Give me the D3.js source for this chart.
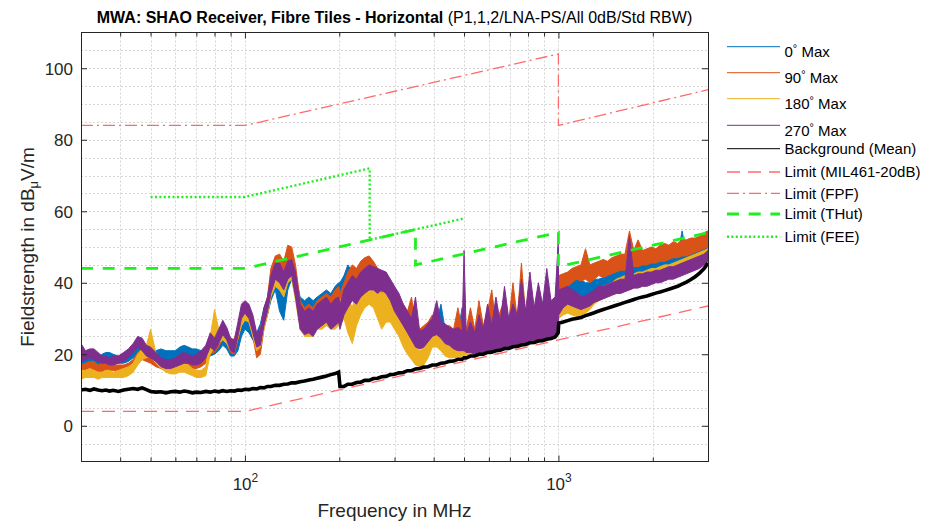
<!DOCTYPE html>
<html>
<head>
<meta charset="utf-8">
<script src="https://cdn.jsdelivr.net/npm/d3@7"></script>
<style>
  html, body { margin: 0; padding: 0; background: #ffffff; }
  svg { display: block; font-family: "Liberation Sans", Arial, Helvetica, sans-serif; }
</style>
</head>
<body>
<svg id="chart" width="931" height="522"></svg>
<script>
// ---- Sample frequencies (MHz) shared by the measured traces ----
const freqMHz = [
  30, 31, 32, 33, 34, 35, 36, 37, 38, 39.5, 41, 42.5, 44, 45.5, 47, 48.5, 50,
  52, 54, 56, 58, 60, 62, 64, 66, 68, 70, 72.5, 75, 77.5, 80, 82.5, 85, 87.5, 90, 92.5, 95, 97.5, 100,
  103, 106, 109, 112, 115, 118, 121, 125, 129, 133, 137, 141, 145, 150, 155, 160, 165, 170, 176, 182, 188, 194, 199,
  201, 207, 213, 220, 227, 234, 241, 249, 257, 265, 273, 282, 291, 300, 310, 320, 330, 340, 350,
  361, 372, 384, 396, 409, 422, 435, 449, 463, 478, 493, 500, 508, 524, 541, 558, 576, 594,
  613, 632, 652, 673, 694, 716, 739, 762, 786, 811, 837, 863, 890, 918, 947, 976, 998,
  1002, 1035, 1070, 1105, 1140, 1180, 1220, 1260, 1300, 1345, 1390, 1435, 1480, 1530, 1580, 1630, 1685,
  1740, 1795, 1855, 1915, 1980, 2045, 2110, 2180, 2250, 2325, 2400, 2480, 2560, 2645, 2730, 2820, 2910, 3000
];

// ---- 0° Max (per-sample minimum / maximum, dBuV/m) ----
const max0Lo = [
  17, 17, 16.5, 17, 17, 17.5, 18, 18, 17.5, 17.5, 17.5, 18, 19, 20, 20, 19, 18.5,
  18.5, 18.5, 18.5, 18, 18.5, 19.5, 20, 19.5, 19, 18.5, 18.5, 18.5, 19.5, 20, 21, 22.5, 21.5, 19.5, 19.5, 21, 25, 27,
  26, 24, 22, 24, 28, 31, 35, 38, 32, 29.5, 38, 41, 36, 30, 29, 29, 28, 30, 31, 32, 31, 32, 33,
  33, 35, 38, 36, 37, 37, 36, 37, 36, 36, 37, 36, 34, 31, 29, 27, 26, 24, 22,
  22, 21.5, 23, 24, 24.5, 24, 22.5, 22, 21.5, 21, 21, 21, 20.5, 20.5, 20, 20, 20.5, 21,
  21, 21.5, 21.5, 22, 22, 22.5, 22.5, 23, 23, 23.5, 24, 24, 24, 24.5, 25, 25, 26,
  33, 35, 37, 38, 37, 36, 35, 36, 37, 37.5, 38, 38, 38.5, 39, 39.5, 39.5, 40,
  40.5, 41, 41, 41.5, 42, 42, 42.5, 43, 43, 43.5, 44, 44.5, 45, 45.5, 46, 46.5, 47, 47.5
];
const max0Hi = [
  19.5, 19, 19, 19.5, 19, 20, 20.5, 20.5, 20, 19.5, 20, 21, 21.5, 23, 22.5, 21.5, 21,
  21, 21.5, 21, 21, 21, 22, 22.5, 22, 21.5, 21.5, 21, 21.5, 23, 23.5, 25, 26.5, 25, 22.5, 22.5, 25, 29, 30.5,
  30, 28, 26, 28.5, 33, 35.5, 41, 44, 42, 36, 44, 45.5, 42, 36, 35, 36, 35, 36, 37, 38, 37, 39, 40,
  40, 42, 45, 43, 44, 45, 43, 44, 43, 42, 43, 42, 40, 38, 36, 33, 31, 29, 27,
  26, 26, 28, 29, 29, 34, 27, 27, 26.5, 26, 33, 27, 25, 27, 25, 27, 25, 29,
  26, 29, 26, 31, 27, 32, 28, 33, 28, 32, 29, 33, 29, 33, 30, 31, 50,
  40, 41, 42.5, 43.5, 42, 41, 40, 40, 41, 41, 41.5, 42, 43, 46, 47.5, 44, 45,
  44.5, 45, 45, 45.5, 45.5, 46, 46, 46.5, 47, 47, 47.5, 54.5, 48, 48.5, 49, 49.5, 50, 50.5
];

// ---- 90° Max ----
const max90Lo = [
  15, 15.5, 16, 15.5, 15, 15, 15.5, 15.5, 15.5, 15, 15, 15.5, 16, 17.5, 18.5, 18, 17.5,
  16.5, 16, 15.5, 15, 15.5, 16, 16.5, 16.5, 16, 16, 16.5, 17.5, 20, 20.5, 22, 24.5, 23, 20.5, 20, 24, 28.5, 30,
  29, 25, 19, 20, 27, 31, 38, 42, 42, 39, 44, 45, 38, 28, 27, 27, 26, 28, 29, 30, 29, 30, 31,
  29, 32, 35, 37, 36, 38, 39, 40, 39, 37, 37, 36, 34, 32, 30, 28, 27, 25, 23,
  22.5, 23, 24, 25, 25, 24, 23, 22, 21.5, 21.5, 21, 21, 21, 20.5, 20.5, 20.5, 21, 21,
  21, 21.5, 22, 22, 22, 22.5, 22.5, 23, 23, 23.5, 24, 24, 24, 24.5, 25, 25, 26,
  37, 38, 39, 40, 41, 40.5, 41, 40, 41, 42, 41.5, 42, 42.5, 43, 43.5, 43.5, 44,
  44.5, 44.5, 45, 45, 45.5, 45.5, 46, 46, 46.5, 47, 47, 47.5, 47.5, 48, 48.5, 49, 49.5, 50
];
const max90Hi = [
  17, 17.5, 18, 18, 17, 17.5, 17.5, 17.5, 17, 17, 17, 17.5, 18.5, 20.5, 21.5, 21, 20,
  19, 18, 17.5, 17.5, 17.5, 18.5, 19, 19, 18.5, 18.5, 19, 21, 24.5, 24, 26, 29, 27, 24, 23.5, 28, 32.5, 34,
  33.5, 30, 24, 26, 32, 36, 44, 47.5, 48, 46, 50.5, 50, 45, 35, 33, 34, 33, 35, 36, 37, 36, 38, 39,
  37, 40, 43, 45, 44, 46, 47, 47.5, 46, 44, 43, 42, 40, 38, 36, 34, 32, 36, 28,
  27, 28, 29, 31, 30, 28.5, 28, 28, 27, 33, 27, 26, 27, 33, 27, 35, 28, 32,
  38, 28, 32, 35, 29, 40, 30, 45.5, 31, 36, 32, 38, 32, 36, 33, 33, 40,
  42, 42.5, 43, 44, 44.5, 45, 49.5, 45, 45.5, 46, 46.5, 46, 47, 47.5, 48, 48, 54.5,
  49, 52, 49, 49.5, 50, 49.5, 50.5, 51, 50.5, 51.5, 51, 52, 52, 52.5, 52.5, 53, 54, 54.5
];

// ---- 180° Max ----
const max180Lo = [
  13, 13.5, 13.5, 13.5, 13, 13.5, 13.5, 13.5, 13.5, 13.5, 13.5, 14, 15, 17, 18.5, 19, 19.5,
  17.5, 16, 15, 14.5, 14.5, 15, 15, 14.5, 14, 13.5, 13.5, 14, 20, 22, 23, 24, 23, 21, 21, 24.5, 28, 29.5,
  29, 25, 21, 22, 27, 31, 36, 39, 38, 36, 40, 41, 35, 27, 25, 25, 25, 27, 27, 28, 27, 27, 28,
  28, 30, 26, 23, 28, 31, 33, 34, 33, 30, 27, 29, 29, 27, 25, 22, 20, 18.5, 17,
  16.5, 17, 19, 22, 22, 21, 19.5, 19, 19, 19.2, 19.5, 19.6, 19.8, 20, 20.2, 20.5, 20.8, 21,
  21.3, 21.6, 22, 22.2, 22.4, 22.8, 23, 23.3, 23.5, 23.8, 24, 24.3, 24.5, 24.8, 25, 25.3, 26,
  30, 31, 31.5, 31, 30.5, 31, 31.5, 32.5, 34, 35, 35.5, 36, 36.5, 37, 37.5, 38, 38,
  38.5, 39, 39, 39.5, 40, 40.5, 41, 41.5, 42, 42.5, 43, 43.5, 44, 44.5, 45, 45.5, 46, 46.5
];
const max180Hi = [
  15.5, 15.5, 16, 15.5, 15, 15, 15.5, 15.5, 15, 15.5, 16, 16.5, 17.5, 20, 21.5, 22.5, 27,
  20.5, 18.5, 17, 16.5, 16.5, 17, 17.5, 17, 16, 15.5, 15.5, 16.5, 25, 32.5, 27, 28, 26.5, 24, 24.5, 28, 32, 33,
  33, 29.5, 25, 27, 32, 35, 41, 44, 44, 42, 45, 45, 41, 33, 31, 32, 31, 33, 34, 35, 34, 35, 35,
  35, 37, 36, 33, 38, 40, 42, 43, 42, 39, 37, 38, 37, 34, 31, 28, 26, 24, 22,
  21, 22, 25, 27, 28, 27, 25, 23.5, 22.5, 22, 23, 24, 23, 22, 22, 23, 24, 25,
  26, 25, 27, 26, 29, 27, 32, 28, 31, 28, 33, 29, 32, 29, 31, 30, 30,
  36, 36, 35.5, 35, 34.5, 34, 35, 36, 37.5, 38.5, 39, 39.5, 40, 41, 41.5, 42, 42,
  42.5, 43, 43, 43.5, 44, 44, 44.5, 45, 45, 45.5, 46, 46.5, 47, 47.5, 48, 48.5, 49, 49.5
];

// ---- 270° Max ----
const max270Lo = [
  18, 18.5, 19, 18.5, 18, 17.5, 17.5, 17, 17, 17.5, 18, 19, 20.5, 22, 21, 19.5, 19,
  18, 16.5, 16, 16, 16.5, 17, 17.5, 17.5, 17, 17, 17.5, 19, 22, 21, 23, 25.5, 24, 21, 20.5, 25, 30, 31.5,
  30, 26, 22, 22.5, 28, 32, 37, 41, 40, 38, 41, 42, 36, 27, 25.5, 26, 25, 27, 28, 29, 27, 28, 29,
  27, 31, 33, 35, 34, 36, 37, 38, 38, 37, 38, 37, 35, 32, 30, 28, 26, 24, 22,
  21.5, 22, 23.5, 25, 25.5, 24.5, 23, 22.5, 21.5, 21, 21, 21, 20.5, 20.5, 20, 20, 20.5, 21,
  21, 21.5, 21.5, 22, 22, 22.5, 22.5, 23, 23, 23.5, 24, 24, 24, 24.5, 25, 25, 26,
  31, 33, 34, 33.5, 33, 32.5, 33, 33.5, 34.5, 35, 35.5, 36, 36.5, 37, 37, 37.5, 38,
  38.5, 38.5, 39, 39, 39.5, 40, 40, 40.5, 41, 41, 41.5, 42, 42.5, 43, 43.5, 44, 45, 46
];
const max270Hi = [
  23, 21, 21.5, 21.5, 20.5, 19.5, 19.5, 19, 19.5, 19.5, 20.5, 21.5, 23, 25, 24.5, 22.5, 22,
  20.5, 19, 18.5, 18.5, 19, 20, 20.5, 20, 19.5, 20, 21, 22.5, 26, 24.5, 27, 29.5, 27.5, 24.5, 24, 29, 34, 35,
  34, 31, 26, 27, 33, 36, 42, 45.5, 45.5, 43, 46, 46.5, 43, 34, 32, 33, 32, 34, 35, 36, 34, 35.5, 36,
  34, 38, 40, 42, 41, 43, 44, 45, 44.5, 44, 43.5, 43, 41, 39, 37, 34, 32, 30, 36,
  26.5, 27, 28.5, 30, 35, 29, 28.5, 27.5, 27, 27.5, 26.5, 49, 25.5, 29, 26, 31, 27, 34,
  28, 36, 29, 39, 30, 34, 31, 41, 32, 43, 33, 40, 34, 44, 35, 36, 51,
  38, 38.5, 39, 38, 37.5, 36, 36.5, 37, 38, 39, 39, 39.5, 40, 40.5, 41, 41, 53,
  42, 42.5, 42.5, 43, 43, 43.5, 43.5, 44, 44.5, 44.5, 45, 45.5, 46, 46.5, 47, 47.5, 48, 49
];

// ---- Background (Mean) ----
const backgroundMean = [
  10, 10.2, 9.9, 10.3, 10, 9.8, 10, 9.7, 9.9, 9.6, 10, 10.2, 10.4, 10.2, 10.6, 10.1, 9.6,
  9.4, 9.5, 9.2, 9.5, 9.6, 9.4, 9.7, 9.5, 9.2, 9.4, 9.3, 9.6, 9.4, 9.7, 9.5, 9.8, 9.6, 9.8, 9.7, 10, 9.9, 10.2,
  10.1, 10.4, 10.3, 10.7, 10.6, 11, 11, 11.3, 11.3, 11.6, 11.7, 12, 12, 12.3, 12.5, 12.8, 13, 13.3, 13.6, 13.9, 14.3, 14.6, 15,
  11.0, 11.0, 11.6, 11.6, 12.1, 12.2, 12.7, 12.7, 13.2, 13.3, 13.7, 13.8, 14.3, 14.4, 14.8, 14.9, 15.4, 15.4, 15.9,
  16.0, 16.4, 16.5, 17.0, 17.0, 17.5, 17.6, 18.0, 18.1, 18.6, 18.6, 19.0, 19.0, 19.5, 19.5, 20.0, 20.0, 20.5,
  20.6, 21.0, 21.1, 21.6, 21.6, 22.1, 22.2, 22.6, 22.7, 23.2, 23.3, 23.7, 23.8, 24.2, 24.4, 24.8, 26.0,
  28.7, 29.0, 29.4, 29.8, 30.0, 30.3, 30.8, 31.2, 31.6, 32.1, 32.5, 32.9, 33.3, 33.7, 34.1, 34.5, 34.9,
  35.3, 35.7, 36.0, 36.3, 36.7, 37.1, 37.4, 37.8, 38.2, 38.6, 39.0, 39.6, 40.2, 40.9, 41.7, 42.7, 43.9, 45.5
];

// ---- Limit lines (frequency MHz / level dBuV/m) ----
const milFreq   = [30, 100, 1000, 3000];
const milLevel  = [4, 4, 24, 33.5];
const fpfFreq   = [30, 100, 1000, 1000, 3000];
const fpfLevel  = [84, 84, 104, 84, 94];
const thutFreq  = [30, 100, 350, 350, 1000, 1000, 3000];
const thutLevel = [44, 44, 54.9, 45, 54.1, 44.5, 54];
const feeFreq   = [50, 100, 250, 250, 500];
const feeLevel  = [64, 64, 72, 52, 58];

// ---- Axis ticks ----
const yTickValues  = [0, 20, 40, 60, 80, 100];
const yGridValues  = [-5, 0, 5, 10, 15, 20, 25, 30, 35, 40, 45, 50, 55, 60, 65, 70, 75, 80, 85, 90, 95, 100, 105];
const xMajorTicks  = [100, 1000];
const xMajorLabels = ["2", "3"];
const xMinorTicks  = [40, 50, 60, 70, 80, 90, 200, 300, 400, 500, 600, 700, 800, 900, 2000];
const legendLabels = ["0", "90", "180", "270", "Background (Mean)", "Limit (MIL461-20dB)", "Limit (FPF)", "Limit (THut)", "Limit (FEE)"];

// ---------------------------------------------------------------
const svg = d3.select("#chart");
const ink = "#262626";
const plot = { left: 81, right: 708, top: 32.5, bottom: 461.5 };

const x = d3.scaleLog().domain([30, 3000]).range([plot.left, plot.right]);
const y = d3.scaleLinear().domain([-10, 110]).range([plot.bottom, plot.top]);

svg.append("rect").attr("width", 931).attr("height", 522).attr("fill", "#ffffff");

svg.append("defs").append("clipPath").attr("id", "plot-clip")
  .append("rect")
  .attr("x", plot.left).attr("y", plot.top)
  .attr("width", plot.right - plot.left).attr("height", plot.bottom - plot.top);

// Dotted grid
const grid = svg.append("g").attr("stroke", "#d6d6d6").attr("stroke-width", 1).attr("stroke-dasharray", "2,2");
grid.selectAll("line.gx").data(xMinorTicks.concat(xMajorTicks)).join("line")
  .attr("x1", d => Math.round(x(d)) + 0.5).attr("x2", d => Math.round(x(d)) + 0.5)
  .attr("y1", plot.top).attr("y2", plot.bottom);
grid.selectAll("line.gy").data(yGridValues).join("line")
  .attr("y1", d => Math.round(y(d)) + 0.5).attr("y2", d => Math.round(y(d)) + 0.5)
  .attr("x1", plot.left).attr("x2", plot.right);

// Measured traces, each drawn as its min/max envelope
const traces = [
  { lo: max0Lo,   hi: max0Hi,   color: "#0072BD" },
  { lo: max90Lo,  hi: max90Hi,  color: "#D95319" },
  { lo: max180Lo, hi: max180Hi, color: "#EDB120" },
  { lo: max270Lo, hi: max270Hi, color: "#7E2F8E" }
];
const body = svg.append("g").attr("clip-path", "url(#plot-clip)");

const band = d3.area()
  .x(d => x(d.f)).y0(d => y(d.lo)).y1(d => y(d.hi));

traces.forEach(t => {
  const rows = freqMHz.map((f, i) => ({ f, lo: t.lo[i], hi: t.hi[i] }));
  body.append("path").datum(rows)
    .attr("d", band)
    .attr("fill", t.color)
    .attr("stroke", t.color)
    .attr("stroke-width", 1)
    .attr("stroke-linejoin", "round");
});

const line = d3.line().x(d => x(d[0])).y(d => y(d[1]));

body.append("path")
  .datum(freqMHz.map((f, i) => [f, backgroundMean[i]]))
  .attr("d", line).attr("fill", "none")
  .attr("stroke", "#000000").attr("stroke-width", 3.6);

const limits = [
  { f: milFreq,  v: milLevel,  color: "#ff6a6a", width: 1.3, dash: "13,8" },
  { f: fpfFreq,  v: fpfLevel,  color: "#ff6a6a", width: 1.3, dash: "12,4,2,4" },
  { f: thutFreq, v: thutLevel, color: "#1fef1f", width: 2.8, dash: "12,9.7" },
  { f: feeFreq,  v: feeLevel,  color: "#1fef1f", width: 2.4, dash: "2,2.4" }
];
limits.forEach(l => {
  body.append("path")
    .datum(l.f.map((f, i) => [f, l.v[i]]))
    .attr("d", line).attr("fill", "none")
    .attr("stroke", l.color).attr("stroke-width", l.width)
    .attr("stroke-dasharray", l.dash);
});

// Axes
function styleAxis(g) {
  g.select(".domain").remove();
  g.selectAll(".tick line").attr("stroke", ink);
  g.selectAll("text").attr("fill", ink).attr("font-family", "'Liberation Sans', Arial, sans-serif");
}

svg.append("g").attr("transform", `translate(${plot.left},0)`)
  .call(d3.axisLeft(y).tickValues(yTickValues).tickSize(-6).tickPadding(8).tickFormat(d3.format("d")))
  .call(styleAxis)
  .call(g => g.selectAll("text").attr("font-size", 17).attr("dy", "0.36em"));

svg.append("g").attr("transform", `translate(${plot.right},0)`)
  .call(d3.axisRight(y).tickValues(yTickValues).tickSize(-6).tickFormat(""))
  .call(styleAxis);

svg.append("g").attr("transform", `translate(0,${plot.bottom})`)
  .call(d3.axisBottom(x).tickValues(xMinorTicks).tickSize(-4).tickFormat(""))
  .call(styleAxis);
svg.append("g").attr("transform", `translate(0,${plot.top})`)
  .call(d3.axisTop(x).tickValues(xMinorTicks).tickSize(-4).tickFormat(""))
  .call(styleAxis);
svg.append("g").attr("transform", `translate(0,${plot.top})`)
  .call(d3.axisTop(x).tickValues(xMajorTicks).tickSize(-6).tickFormat(""))
  .call(styleAxis);

const xMajor = svg.append("g").attr("transform", `translate(0,${plot.bottom})`)
  .call(d3.axisBottom(x).tickValues(xMajorTicks).tickSize(-6).tickFormat(""))
  .call(styleAxis);
xMajor.selectAll(".tick text")
  .attr("y", 28.5).attr("dy", 0).attr("font-size", 17).attr("text-anchor", "middle")
  .each(function (d, i) {
    const t = d3.select(this);
    t.append("tspan").text("10");
    t.append("tspan").attr("dy", -8).attr("font-size", 12).text(xMajorLabels[i]);
  });

// Frame
svg.append("rect")
  .attr("x", plot.left + 0.5).attr("y", plot.top)
  .attr("width", plot.right - plot.left).attr("height", plot.bottom - plot.top)
  .attr("fill", "none").attr("stroke", ink).attr("stroke-width", 1);

// Title
const title = svg.append("text")
  .attr("x", (plot.left + plot.right) / 2).attr("y", 23)
  .attr("text-anchor", "middle").attr("font-size", 16).attr("fill", "#000000");
title.append("tspan").attr("font-weight", "bold").text("MWA: SHAO Receiver, Fibre Tiles - Horizontal");
title.append("tspan").text(" (P1,1,2/LNA-PS/All 0dB/Std RBW)");

// Axis titles
svg.append("text")
  .attr("x", (plot.left + plot.right) / 2).attr("y", 517)
  .attr("text-anchor", "middle").attr("font-size", 19).attr("fill", ink)
  .text("Frequency in MHz");

const yTitle = svg.append("text")
  .attr("transform", `translate(33.5,${(plot.top + plot.bottom) / 2}) rotate(-90)`)
  .attr("text-anchor", "middle").attr("font-size", 19).attr("fill", ink);
yTitle.append("tspan").text("Fieldstrength in dB");
yTitle.append("tspan").attr("font-size", 13).attr("dy", 4).text("\u03bc");
yTitle.append("tspan").attr("dy", -4).text("V/m");

// Legend
const legendRows = [46.7, 72.7, 98.7, 125.3, 148.7, 172, 193.3, 214, 236.7];
const legendStyles = [
  { color: "#0072BD", width: 1, dash: null },
  { color: "#D95319", width: 1, dash: null },
  { color: "#EDB120", width: 1, dash: null },
  { color: "#7E2F8E", width: 1, dash: null },
  { color: "#000000", width: 1, dash: null },
  { color: "#ff6a6a", width: 1.3, dash: "13,8" },
  { color: "#ff6a6a", width: 1.3, dash: "12,4,2,4" },
  { color: "#1fef1f", width: 2.8, dash: "12,9.7" },
  { color: "#1fef1f", width: 2.4, dash: "2,2.4" }
];
const legend = svg.append("g");
legendLabels.forEach((label, i) => {
  const ly = legendRows[i];
  const st = legendStyles[i];
  legend.append("line")
    .attr("x1", 727).attr("x2", 780).attr("y1", ly).attr("y2", ly)
    .attr("stroke", st.color).attr("stroke-width", st.width)
    .attr("stroke-dasharray", st.dash);
  const t = legend.append("text").attr("x", 784.5).attr("font-size", 15).attr("fill", "#000000");
  if (i < 4) {
    t.attr("y", ly + 10.6);
    t.append("tspan").text(label);
    t.append("tspan").attr("font-size", 11).attr("dy", -5).text("\u00b0");
    t.append("tspan").attr("dy", 5).text(" Max");
  } else {
    t.attr("y", ly + 5.4).text(label);
  }
});
</script>
</body>
</html>
